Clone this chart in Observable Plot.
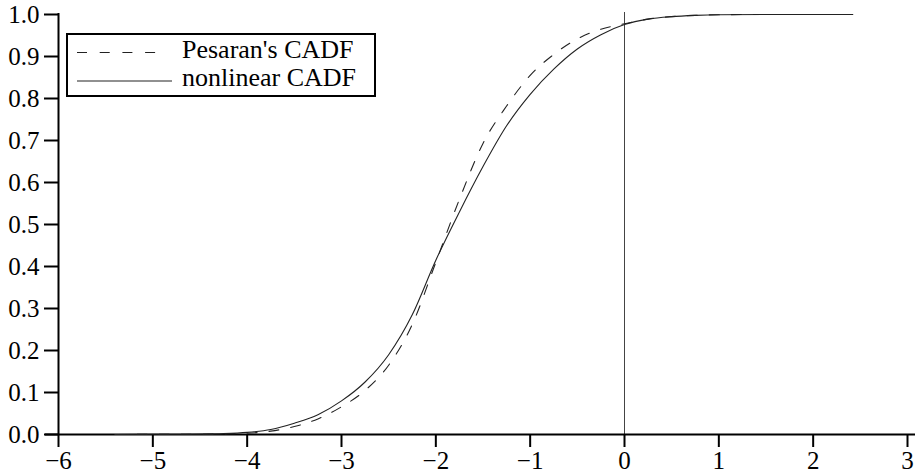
<!DOCTYPE html>
<html>
<head>
<meta charset="utf-8">
<script src="https://cdn.jsdelivr.net/npm/d3@7"></script>
<script src="https://cdn.jsdelivr.net/npm/@observablehq/plot@0.6"></script>
<style>
  html, body { margin: 0; padding: 0; background: white; }
  #wrap { position: relative; width: 915px; height: 476px; }
  #legend { position: absolute; left: 0; top: 0; pointer-events: none; }
</style>
</head>
<body>
<div id="wrap"></div>
<script>
// ---- data ----
const xValues = [-5.4, -5.0, -4.5, -4.25, -4.0, -3.75, -3.5, -3.25, -3.0, -2.75, -2.5, -2.25, -2.0, -1.75, -1.5, -1.25, -1.0, -0.75, -0.5, -0.25, 0, 0.25, 0.5, 0.75, 1.0, 1.5, 2.0, 2.42];
const nonlinearCADF = [0.000, 0.0005, 0.001, 0.002, 0.005, 0.012, 0.027, 0.047, 0.080, 0.125, 0.190, 0.285, 0.415, 0.530, 0.638, 0.735, 0.810, 0.870, 0.918, 0.952, 0.976, 0.989, 0.995, 0.998, 0.9995, 1.0, 1.0, 1.0];
const pesaranCADF   = [0.000, 0.0003, 0.0006, 0.0015, 0.003, 0.008, 0.019, 0.037, 0.066, 0.105, 0.165, 0.262, 0.410, 0.560, 0.693, 0.782, 0.855, 0.905, 0.942, 0.965, 0.978, 0.989, 0.995, 0.998, 0.9995, 1.0, 1.0, 1.0];
const xTicks = [-6, -5, -4, -3, -2, -1, 0, 1, 2, 3];
const yTicks = [0, 0.1, 0.2, 0.3, 0.4, 0.5, 0.6, 0.7, 0.8, 0.9, 1.0];
const refLine = [0];
const seriesNames = ["Pesaran's CADF", "nonlinear CADF"];

const nonlinearData = xValues.map((x, i) => ({x, y: nonlinearCADF[i]}));
const pesaranData = xValues.map((x, i) => ({x, y: pesaranCADF[i]}));

const font = "Liberation Serif, serif";

const chart = Plot.plot({
  width: 915,
  height: 476,
  marginLeft: 58,
  marginRight: 8,
  marginTop: 14,
  marginBottom: 42,
  style: {fontFamily: font, fontSize: "25px", color: "black", background: "white", overflow: "visible"},
  x: {domain: [-6, 3]},
  y: {domain: [0, 1]},
  marks: [
    Plot.ruleX(refLine, {stroke: "#444", strokeWidth: 1, insetTop: -2}),
    Plot.ruleX([xTicks[0]], {stroke: "black", strokeWidth: 2, insetTop: -1}),
    Plot.ruleY([yTicks[0]], {stroke: "black", strokeWidth: 2, insetLeft: -13, insetRight: -8}),
    Plot.axisX({ticks: xTicks, tickSize: 13, tickPadding: 4, strokeWidth: 2, fontSize: 25, fontFamily: font, label: null}),
    Plot.axisY({ticks: yTicks, tickSize: 14, tickPadding: 5, strokeWidth: 2, fontSize: 25, fontFamily: font, label: null, tickFormat: d3.format(".1f")}),
    Plot.line(pesaranData, {x: "x", y: "y", stroke: "#222", strokeWidth: 1.1, strokeDasharray: "10,12", curve: "monotone-x"}),
    Plot.line(nonlinearData, {x: "x", y: "y", stroke: "#222", strokeWidth: 1.1, curve: "monotone-x"})
  ]
});

const wrap = document.getElementById("wrap");
wrap.appendChild(chart);

// legend overlay
const leg = d3.select(wrap).append("svg")
  .attr("id", "legend")
  .attr("width", 915).attr("height", 476);
leg.append("rect")
  .attr("x", 67).attr("y", 34).attr("width", 308).attr("height", 62)
  .attr("fill", "white").attr("stroke", "black").attr("stroke-width", 2);
leg.append("line").attr("x1", 77).attr("x2", 156).attr("y1", 52.5).attr("y2", 52.5)
  .attr("stroke", "#222").attr("stroke-width", 1.1).attr("stroke-dasharray", "10,12.7");
leg.append("line").attr("x1", 77).attr("x2", 172).attr("y1", 81).attr("y2", 81)
  .attr("stroke", "#222").attr("stroke-width", 1.1);
leg.append("text").attr("x", 182).attr("y", 57.5)
  .attr("font-family", font).attr("font-size", 26).attr("fill", "black")
  .text(seriesNames[0]);
leg.append("text").attr("x", 182).attr("y", 86)
  .attr("font-family", font).attr("font-size", 26).attr("fill", "black")
  .text(seriesNames[1]);
</script>
</body>
</html>
